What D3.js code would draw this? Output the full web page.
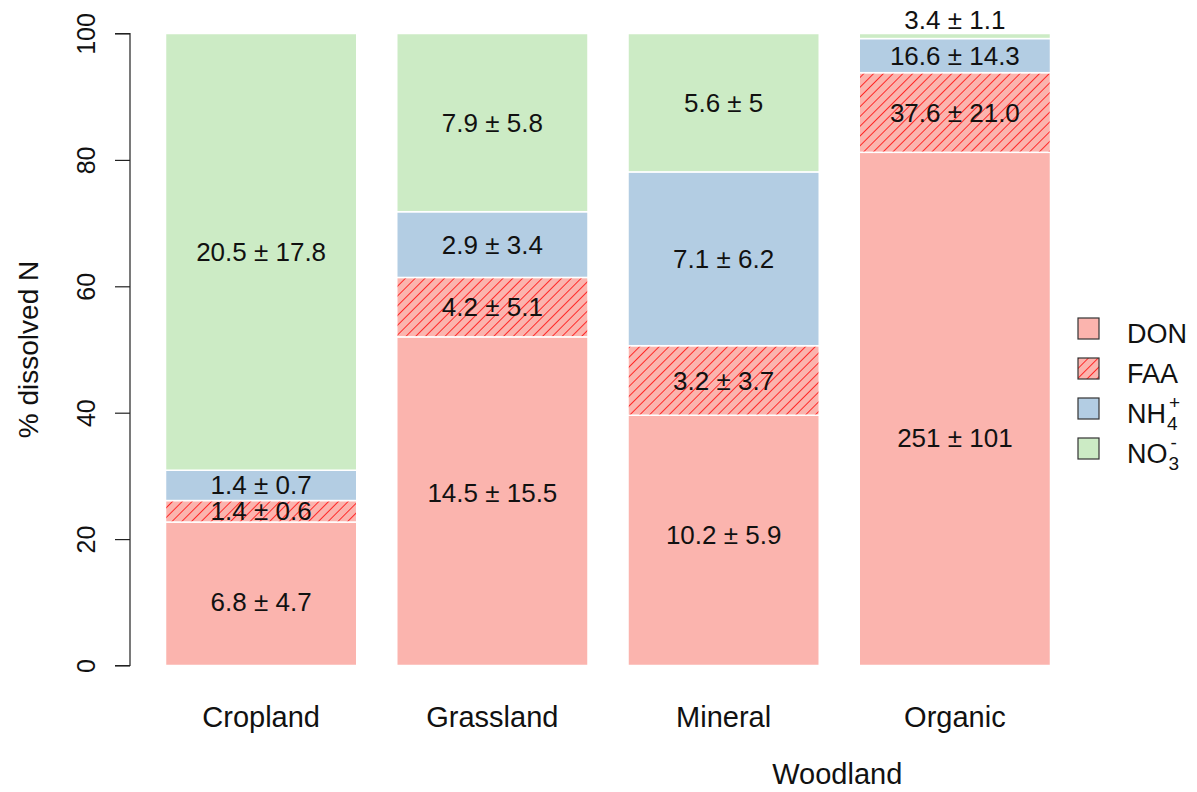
<!DOCTYPE html>
<html>
<head>
<meta charset="utf-8">
<script src="https://cdn.jsdelivr.net/npm/d3@7"></script>
<style>
  html, body { margin: 0; padding: 0; background: #fff; }
  svg { display: block; font-family: "Liberation Sans", Arial, sans-serif; }
</style>
</head>
<body>
<svg id="chart" width="1197" height="792"></svg>
<script>
// ---- data ----
const categories = ["Cropland", "Grassland", "Mineral", "Organic"];
const seriesKeys = ["DON", "FAA", "NH4", "NO3"];
const donPct = [22.7, 52.0, 39.6, 81.2];
const faaPct = [3.4, 9.4, 11.0, 12.6];
const nh4Pct = [4.8, 10.4, 27.5, 5.4];
const no3Pct = [69.1, 28.2, 21.9, 0.8];
const donLabels = ["6.8 ± 4.7", "14.5 ± 15.5", "10.2 ± 5.9", "251 ± 101"];
const faaLabels = ["1.4 ± 0.6", "4.2 ± 5.1", "3.2 ± 3.7", "37.6 ± 21.0"];
const nh4Labels = ["1.4 ± 0.7", "2.9 ± 3.4", "7.1 ± 6.2", "16.6 ± 14.3"];
const no3Labels = ["20.5 ± 17.8", "7.9 ± 5.8", "5.6 ± 5", "3.4 ± 1.1"];
const donLabelAt = [10.1, 27.3, 20.6, 36.0];
const yTicks = [0, 20, 40, 60, 80, 100];
const yTitle = "% dissolved N";
const groupTitle = "Woodland";
const groupMembers = ["Mineral", "Organic"];

// ---- build table ----
const pctBySeries = { DON: donPct, FAA: faaPct, NH4: nh4Pct, NO3: no3Pct };
const labelsBySeries = { DON: donLabels, FAA: faaLabels, NH4: nh4Labels, NO3: no3Labels };
const table = categories.map((c, i) => {
  const row = { cat: c };
  seriesKeys.forEach(k => row[k] = pctBySeries[k][i]);
  return row;
});
const stacked = d3.stack().keys(seriesKeys)(table);

const colors = { DON: "#FBB4AE", FAA: "#FBB4AE", NH4: "#B3CDE3", NO3: "#CCEBC5" };

const svg = d3.select("#chart");
const defs = svg.append("defs");
const pat = defs.append("pattern")
  .attr("id", "hatch").attr("patternUnits", "userSpaceOnUse")
  .attr("width", 6.9).attr("height", 10)
  .attr("patternTransform", "rotate(45)");
pat.append("rect").attr("width", 6.9).attr("height", 10).attr("fill", "#FBB4AE");
pat.append("line").attr("x1", 0.5).attr("x2", 0.5).attr("y1", 0).attr("y2", 10)
  .attr("stroke", "#FF1A1A").attr("stroke-width", 0.9);

const x = d3.scaleBand().domain(categories).range([145.5, 1070.5])
  .paddingInner(0.173).paddingOuter(0.0865);
const y = d3.scaleLinear().domain([0, 100]).range([665.5, 33.5]);

const fillFor = k => k === "FAA" ? "url(#hatch)" : colors[k];

// bars
const layers = svg.append("g").selectAll("g").data(stacked).join("g");
layers.selectAll("rect").data(d => d.map(v => ({ v, key: d.key })))
  .join("rect")
  .attr("x", d => x(d.v.data.cat))
  .attr("width", x.bandwidth())
  .attr("y", d => y(d.v[1]))
  .attr("height", d => y(d.v[0]) - y(d.v[1]))
  .attr("fill", d => fillFor(d.key))
  .attr("stroke", "#fff").attr("stroke-width", 1.5);

// segment labels
const labG = svg.append("g").attr("font-size", 26).attr("fill", "#111").attr("text-anchor", "middle");
stacked.forEach(layer => {
  layer.forEach((v, i) => {
    let pos = (v[0] + v[1]) / 2;
    if (layer.key === "DON") pos = donLabelAt[i];
    if (v[1] - v[0] < 3) pos = v[1] + 2.2;
    labG.append("text")
      .attr("x", x(v.data.cat) + x.bandwidth() / 2)
      .attr("y", y(pos))
      .attr("dy", "0.35em")
      .text(labelsBySeries[layer.key][i]);
  });
});

// y axis
const yAxis = d3.axisLeft(y).tickValues(yTicks).tickSize(15).tickPadding(8).tickFormat(d3.format("d"));
const ax = svg.append("g").attr("transform", "translate(130,0)").call(yAxis);
ax.select(".domain").attr("stroke", "#222").attr("stroke-width", 1.2)
  .attr("d", `M-15,${y(100)}H0V${y(0)}H-15`);
ax.selectAll(".tick line").attr("stroke", "#222").attr("stroke-width", 1.2);
ax.selectAll(".tick text")
  .attr("font-size", 25).attr("fill", "#111")
  .attr("font-family", '"Liberation Sans", Arial, sans-serif')
  .attr("x", null).attr("dy", null)
  .attr("text-anchor", "middle")
  .attr("transform", "translate(-35,0) rotate(-90)");

svg.append("text").attr("transform", `translate(38,${y(50)}) rotate(-90)`)
  .attr("text-anchor", "middle").attr("font-size", 28).attr("fill", "#111")
  .text(yTitle);

// x labels
svg.append("g").selectAll("text").data(categories).join("text")
  .attr("x", d => x(d) + x.bandwidth() / 2).attr("y", 727)
  .attr("text-anchor", "middle").attr("font-size", 29).attr("fill", "#111")
  .text(d => d);
const gx = (x(groupMembers[0]) + x(groupMembers[1]) + x.bandwidth()) / 2;
svg.append("text").attr("x", gx - 2).attr("y", 784)
  .attr("text-anchor", "middle").attr("font-size", 29).attr("fill", "#111")
  .text(groupTitle);

// legend
const leg = svg.append("g").attr("transform", "translate(1078,318)");
seriesKeys.forEach((k, i) => {
  const g = leg.append("g").attr("transform", `translate(0,${i * 40})`);
  g.append("rect").attr("width", 21).attr("height", 21)
    .attr("fill", fillFor(k)).attr("stroke", "#333").attr("stroke-width", 1.2);
  const t = g.append("text").attr("x", 49).attr("y", 25).attr("font-size", 27).attr("fill", "#111");
  if (k === "NH4" || k === "NO3") {
    const base = k === "NH4" ? "NH" : "NO";
    const sub = k === "NH4" ? "4" : "3";
    const sup = k === "NH4" ? "+" : "-";
    t.text(base);
    const w = t.node().getComputedTextLength();
    g.append("text").attr("x", 49 + w + 1).attr("y", 32).attr("font-size", 19).attr("fill", "#111").text(sub);
    g.append("text").attr("x", 49 + w + 3).attr("y", 11).attr("font-size", 19).attr("fill", "#111").text(sup);
  } else {
    t.text(k);
  }
});
</script>
</body>
</html>
